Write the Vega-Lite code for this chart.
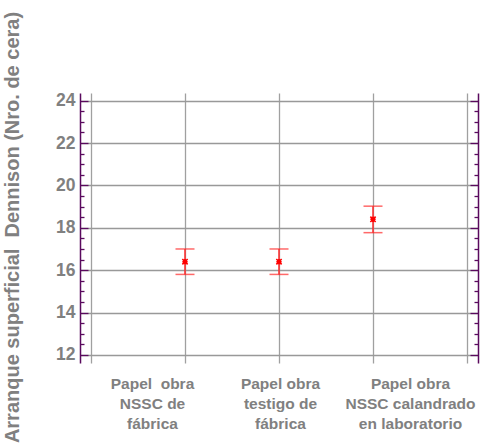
{
  "$schema": "https://vega.github.io/schema/vega-lite/v6.json",
  "width": 398,
  "height": 270,
  "padding": {"left": 80, "top": 93, "right": 20, "bottom": 84},
  "autosize": {"type": "none"},
  "background": "white",
  "config": {
    "view": {"stroke": null},
    "font": "Liberation Sans",
    "axis": {"labelFont": "Liberation Sans", "titleFont": "Liberation Sans"}
  },
  "data": {
    "values": [
      {"grupo": "Papel obra NSSC de fábrica", "media": 16.4, "inf": 15.8, "sup": 17.0},
      {"grupo": "Papel obra testigo de fábrica", "media": 16.4, "inf": 15.8, "sup": 17.0},
      {"grupo": "Papel obra NSSC calandrado en laboratorio", "media": 18.4, "inf": 17.77, "sup": 19.02}
    ]
  },
  "transform": [{"window": [{"op": "row_number", "as": "n"}]}],
  "layer": [
    {
      "mark": {"type": "rule", "color": "#ff2a2a", "strokeWidth": 1.5},
      "encoding": {
        "x": {
          "field": "n", "type": "quantitative",
          "scale": {"domain": [-0.117, 4.117], "nice": false, "zero": false},
          "axis": {
            "orient": "bottom", "values": [0, 1, 2, 3, 4], "grid": true,
            "gridColor": "#a0a0a0", "gridWidth": 1.3, "ticks": false, "domain": false,
            "labelExpr": "datum.value == 1 ? ['Papel\u00a0 obra', 'NSSC de', 'fábrica'] : datum.value == 2 ? ['Papel obra', 'testigo de', 'fábrica'] : datum.value == 3 ? ['Papel obra', 'NSSC calandrado', 'en laboratorio'] : ''",
            "labelOffset": {"condition": [{"test": "datum.value == 1", "value": -33}, {"test": "datum.value == 3", "value": 37}], "value": 1},
            "labelFontSize": 15.5, "labelFontWeight": "bold", "labelColor": "#808080",
            "labelPadding": 13, "labelLineHeight": 20, "labelBaseline": "top",
            "labelOverlap": false, "title": null
          }
        },
        "y": {
          "field": "inf", "type": "quantitative",
          "scale": {"domain": [11.62, 24.36], "nice": false, "zero": false},
          "axis": {
            "orient": "left", "values": [12, 14, 16, 18, 20, 22, 24],
            "grid": true, "gridColor": "#999999", "gridWidth": 1.3,
            "tickSize": -8, "tickColor": "#5a0a5e", "tickWidth": 1.3,
            "domainColor": "#5a0a5e", "domainWidth": 1.5,
            "labelFontSize": 17.5, "labelFontWeight": "bold", "labelColor": "#808080",
            "labelPadding": 13,
            "title": "Arranque superficial\u00a0 Dennison (Nro. de cera)",
            "titleFontSize": 20, "titleFontWeight": "bold", "titleColor": "#808080",
            "titleAngle": -90, "titleX": -68, "titleY": 134, "titleAlign": "center", "titleBaseline": "middle"
          }
        },
        "y2": {"field": "sup"}
      }
    },
    {
      "mark": {"type": "tick", "color": "#ff2a2a", "orient": "horizontal", "size": 19, "thickness": 1.5},
      "encoding": {
        "x": {"field": "n", "type": "quantitative", "axis": null},
        "y": {
          "field": "inf", "type": "quantitative",
          "axis": {
            "orient": "left",
            "values": [12.5, 13, 13.5, 14.5, 15, 15.5, 16.5, 17, 17.5, 18.5, 19, 19.5, 20.5, 21, 21.5, 22.5, 23, 23.5],
            "grid": false, "labels": false, "domain": false, "title": null,
            "tickSize": -4, "tickColor": "#5a0a5e", "tickWidth": 1.3
          }
        }
      }
    },
    {
      "mark": {"type": "tick", "color": "#ff2a2a", "orient": "horizontal", "size": 19, "thickness": 1.5},
      "encoding": {
        "x": {"field": "n", "type": "quantitative", "axis": null},
        "y": {
          "field": "sup", "type": "quantitative",
          "axis": {
            "orient": "right", "values": [12, 14, 16, 18, 20, 22, 24],
            "grid": false, "labels": false, "title": null,
            "tickSize": -8, "tickColor": "#5a0a5e", "tickWidth": 1.3,
            "domainColor": "#5a0a5e", "domainWidth": 1.5
          }
        }
      }
    },
    {
      "mark": {"type": "point", "shape": "M-1,-1L1,1M-1,1L1,-1M-1,0L1,0M0,-1L0,1", "filled": false, "color": "#ff0000", "strokeWidth": 1.6, "size": 28, "opacity": 1},
      "encoding": {
        "x": {"field": "n", "type": "quantitative", "axis": null},
        "y": {
          "field": "media", "type": "quantitative",
          "axis": {
            "orient": "right",
            "values": [12.5, 13, 13.5, 14.5, 15, 15.5, 16.5, 17, 17.5, 18.5, 19, 19.5, 20.5, 21, 21.5, 22.5, 23, 23.5],
            "grid": false, "labels": false, "domain": false, "title": null,
            "tickSize": -4, "tickColor": "#5a0a5e", "tickWidth": 1.3
          }
        }
      }
    }
  ],
  "resolve": {"axis": {"y": "independent", "x": "independent"}}
}
